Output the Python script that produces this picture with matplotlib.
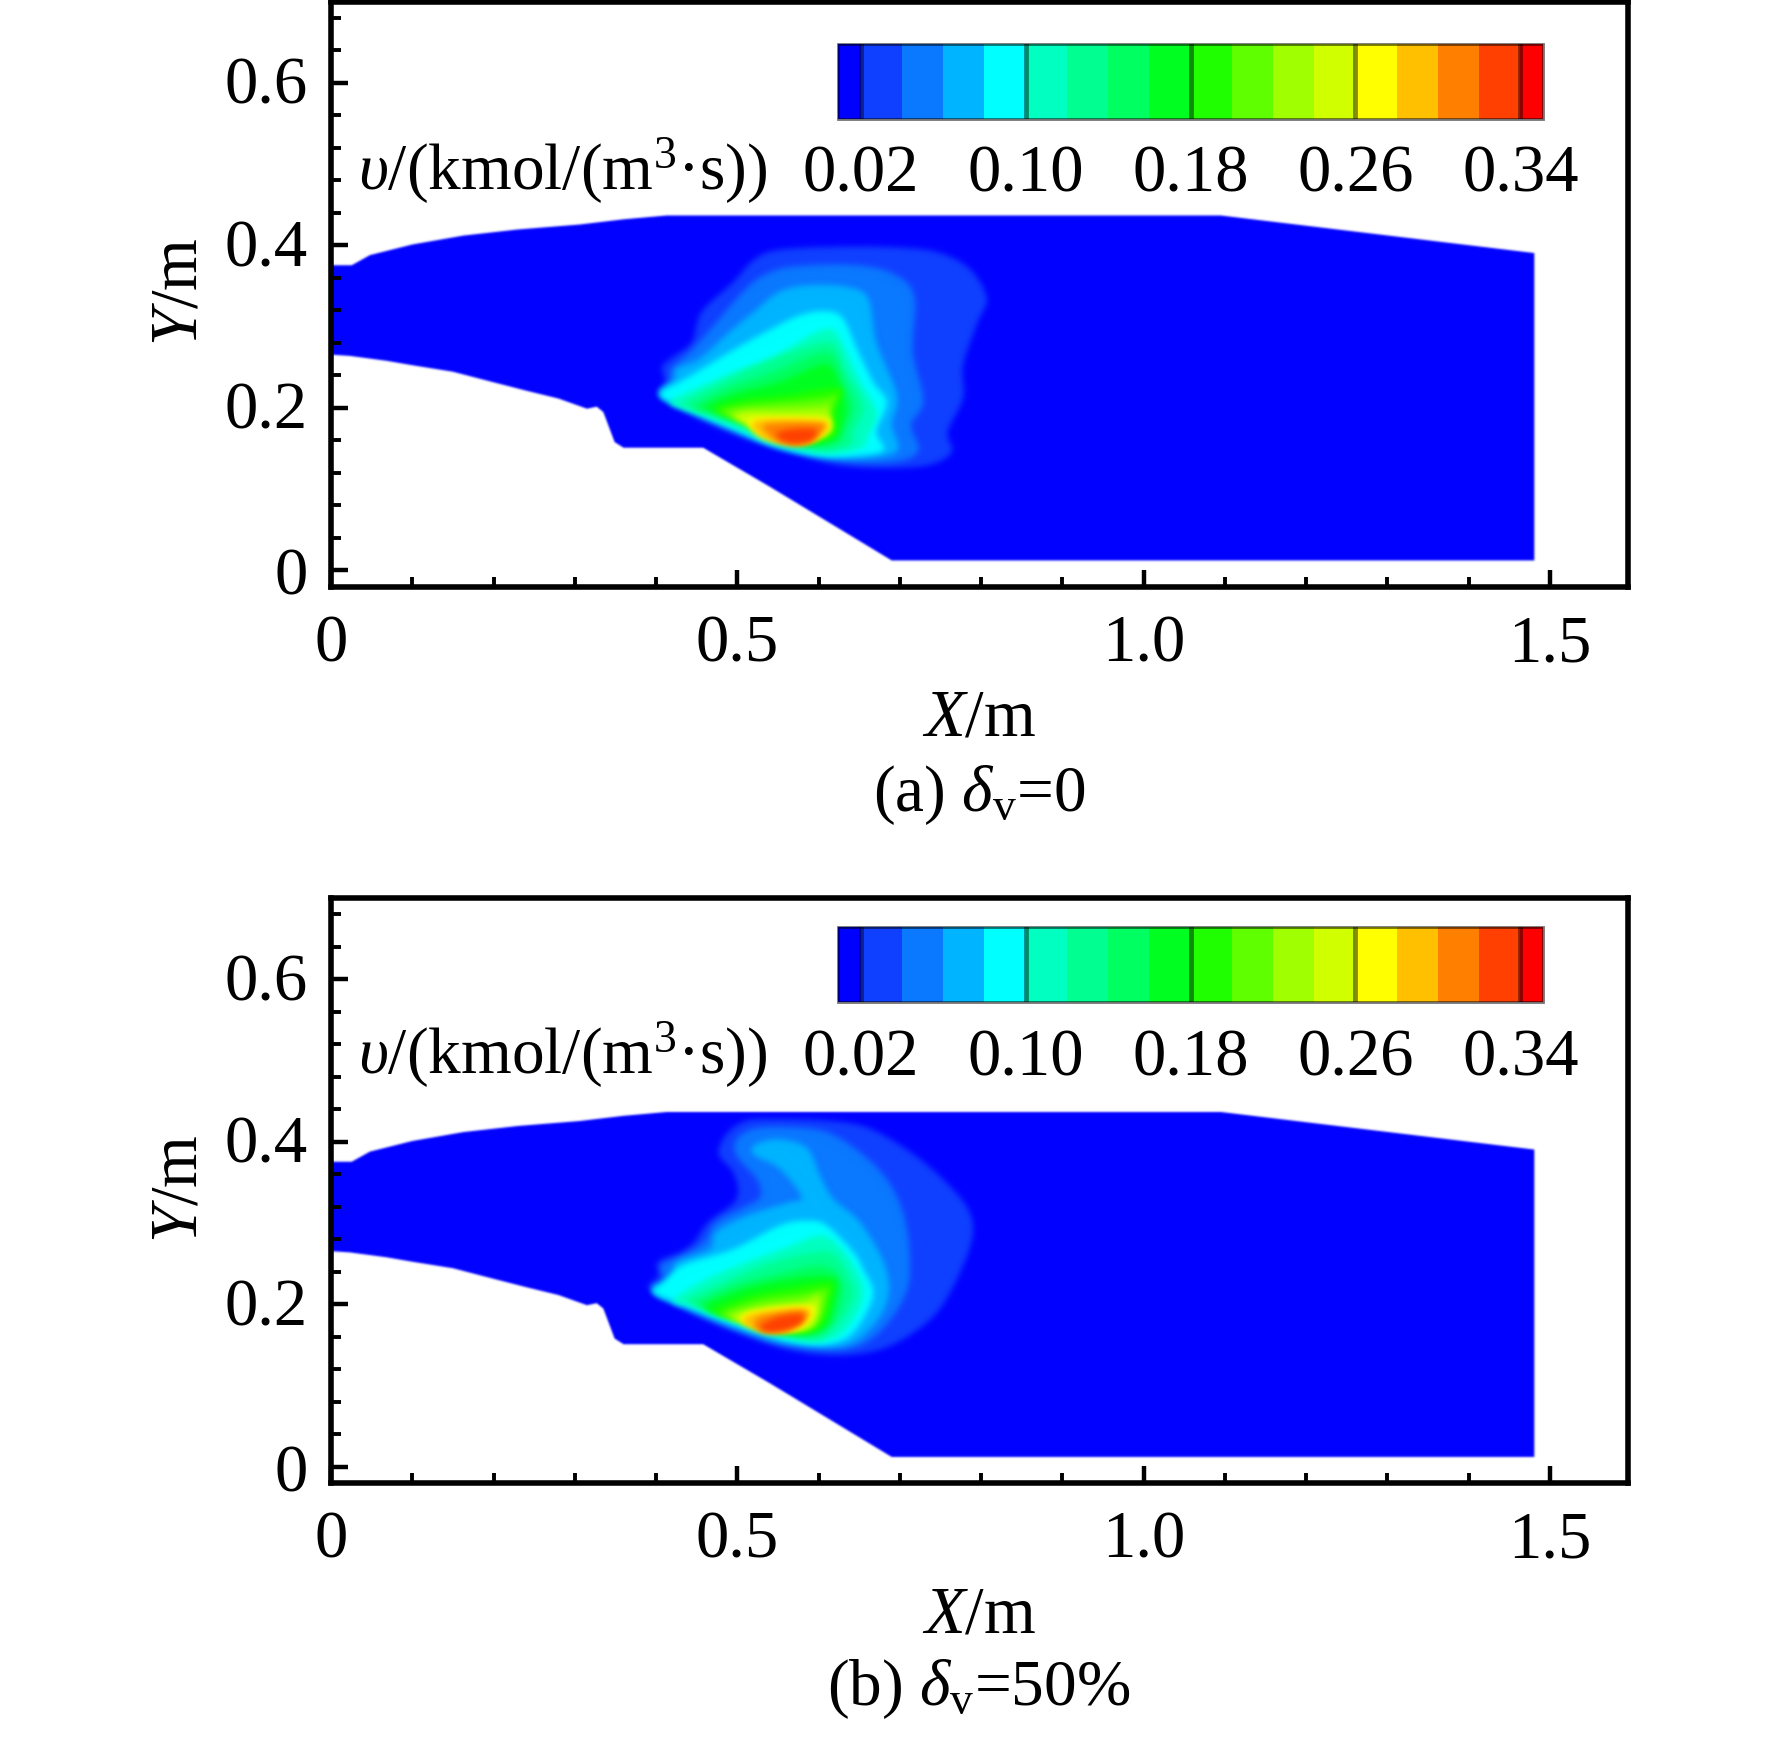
"""
Reaction rate contours for the two cavity cases
"""

import numpy as np
import matplotlib
matplotlib.use('Agg')
import matplotlib.pyplot as plt
from matplotlib.cm import ScalarMappable
from matplotlib.colors import BoundaryNorm, ListedColormap
from matplotlib.patches import PathPatch
from matplotlib.path import Path
from matplotlib.ticker import FixedLocator, MultipleLocator
from matplotlib.transforms import ScaledTranslation

plt.rcParams['font.family'] = ['Liberation Serif', 'DejaVu Serif']
plt.rcParams['mathtext.fontset'] = 'custom'
plt.rcParams['mathtext.rm'] = 'Liberation Serif'
plt.rcParams['mathtext.it'] = 'Liberation Serif:italic'
plt.rcParams['mathtext.default'] = 'regular'

# Colour scale
levels = [0.009, 0.02, 0.04, 0.06, 0.08, 0.10, 0.12, 0.14, 0.16, 0.18,
          0.20, 0.22, 0.24, 0.26, 0.28, 0.30, 0.32, 0.34, 0.351]
band_colors = ['#0000ff', '#1040ff', '#0a78ff', '#00b4ff', '#00ffff', '#00ffc0',
               '#00ff90', '#00ff60', '#00ff20', '#20ff00', '#60ff00', '#a0ff00',
               '#d0ff00', '#ffff00', '#ffc000', '#ff8000', '#ff4000', '#ff0000']
bar_ticks = [0.02, 0.10, 0.18, 0.26, 0.34]
bar_labels = ['0.02', '0.10', '0.18', '0.26', '0.34']

x_ticks = [0, 0.5, 1.0, 1.5]
x_labels = ['0', '0.5', '1.0', '1.5']
y_ticks = [0, 0.2, 0.4, 0.6]
y_labels = ['0', '0.2', '0.4', '0.6']

# Flow domain outline
wall_x = [0, 0.0255, 0.048, 0.10, 0.163, 0.23, 0.306, 0.36, 0.413, 1.095, 1.4807, 1.4807, 0.690, 0.540,
          0.458, 0.360, 0.349, 0.337, 0.335, 0.327, 0.315, 0.28, 0.241, 0.20, 0.150, 0.10, 0.068, 0.023, 0]
wall_y = [0.3755, 0.3755, 0.388, 0.401, 0.412, 0.4195, 0.4256, 0.432, 0.4367, 0.4367, 0.3905, 0.0123, 0.0123, 0.103,
          0.151, 0.151, 0.158, 0.190, 0.195, 0.2015, 0.199, 0.2115, 0.221, 0.2315, 0.2445, 0.2525, 0.258, 0.264, 0.2655]

# Contours for delta_v = 0, lower bound of each band
a_002 = [(.403, .218), (.411, .232), (.407, .250), (.421, .263), (.444, .281), (.456, .318), (.495, .355),
         (.520, .382), (.548, .394), (.610, .398), (.684, .398), (.745, .392), (.786, .371), (.807, .335),
         (.796, .306), (.778, .253), (.778, .212), (.759, .171), (.764, .146), (.737, .130), (.684, .126),
         (.622, .130), (.561, .146), (.499, .166), (.438, .193)]
a_004 = [(.404, .216), (.417, .232), (.419, .248), (.444, .271), (.475, .306), (.507, .343), (.532, .363),
         (.569, .374), (.643, .376), (.692, .365), (.718, .337), (.716, .269), (.729, .209), (.714, .179),
         (.723, .148), (.696, .134), (.634, .134), (.561, .148), (.499, .171), (.438, .197)]
a_006 = [(.405, .216), (.423, .236), (.425, .248), (.454, .261), (.491, .294), (.520, .318), (.552, .343),
         (.589, .351), (.634, .349), (.661, .335), (.671, .281), (.696, .216), (.690, .179), (.698, .150),
         (.675, .140), (.618, .139), (.552, .152), (.495, .173), (.438, .199)]
a_008 = [(.405, .216), (.429, .232), (.450, .244), (.491, .269), (.536, .294), (.577, .314), (.610, .319),
         (.630, .310), (.647, .273), (.667, .232), (.684, .207), (.671, .171), (.680, .148), (.643, .141),
         (.602, .141), (.544, .154), (.495, .175), (.438, .199)]
a_010 = [(.417, .207), (.454, .226), (.495, .244), (.548, .265), (.593, .291), (.618, .296), (.634, .269),
         (.651, .232), (.671, .195), (.661, .166), (.651, .150), (.602, .144), (.544, .158), (.495, .177),
         (.446, .195)]
a_012 = [(.433, .205), (.475, .228), (.528, .253), (.585, .275), (.618, .279), (.632, .248), (.655, .203),
         (.643, .171), (.639, .154), (.602, .148), (.544, .162), (.495, .181), (.454, .197)]
a_014 = [(.446, .201), (.487, .224), (.544, .244), (.593, .265), (.618, .265), (.630, .236), (.643, .203),
         (.634, .175), (.626, .158), (.597, .152), (.544, .166), (.499, .183), (.462, .195)]
a_016 = [(.458, .201), (.499, .218), (.552, .232), (.602, .253), (.618, .248), (.626, .228), (.634, .199),
         (.626, .171), (.618, .160), (.589, .156), (.544, .169), (.503, .185), (.470, .197)]
a_018 = [(.470, .197), (.503, .209), (.561, .216), (.610, .224), (.630, .222), (.622, .199), (.622, .171),
         (.610, .162), (.585, .158), (.548, .171), (.507, .185)]
a_020 = [(.479, .195), (.507, .203), (.552, .207), (.606, .212), (.622, .216), (.614, .191), (.618, .173),
         (.606, .164), (.581, .160), (.548, .173), (.511, .185)]
a_022 = [(.489, .191), (.511, .197), (.552, .199), (.602, .201), (.612, .203), (.612, .179), (.606, .166),
         (.577, .160), (.548, .174), (.516, .183)]
a_024 = [(.497, .189), (.516, .193), (.561, .191), (.610, .191), (.614, .175), (.602, .166), (.577, .159),
         (.546, .164), (.524, .171), (.507, .181)]
a_026 = [(.513, .183), (.524, .187), (.573, .188), (.608, .185), (.614, .175), (.600, .164), (.577, .156),
         (.546, .159), (.526, .166), (.518, .175)]
a_028 = [(.518, .179), (.528, .185), (.573, .186), (.606, .183), (.611, .175), (.597, .162), (.577, .155),
         (.548, .158), (.528, .166)]
a_030 = [(.536, .180), (.602, .181), (.606, .175), (.593, .160), (.573, .155), (.552, .158), (.538, .168)]
a_032 = [(.548, .168), (.569, .174), (.597, .173), (.591, .160), (.573, .156), (.557, .159)]
plume_a = [a_002, a_004, a_006, a_008, a_010, a_012, a_014, a_016, a_018,
           a_020, a_022, a_024, a_026, a_028, a_030, a_032]

# Contours for delta_v = 50%
b_002 = [(.392, .219), (.403, .235), (.402, .252), (.429, .264), (.446, .276), (.464, .301), (.499, .330),
         (.495, .362), (.477, .385), (.487, .410), (.511, .426), (.548, .428), (.610, .426), (.659, .418),
         (.708, .391), (.749, .358), (.782, .321), (.790, .289), (.778, .248), (.749, .194), (.712, .162),
         (.671, .143), (.618, .137), (.561, .145), (.499, .166), (.438, .192)]
b_004 = [(.395, .217), (.409, .231), (.407, .248), (.433, .260), (.458, .276), (.474, .301), (.507, .319),
         (.528, .332), (.524, .354), (.499, .383), (.499, .403), (.520, .416), (.561, .418), (.610, .412),
         (.651, .387), (.684, .354), (.704, .313), (.712, .264), (.708, .215), (.675, .166), (.634, .145),
         (.561, .149), (.499, .168), (.438, .194)]
b_006 = [(.397, .215), (.421, .235), (.425, .252), (.466, .268), (.474, .289), (.511, .309), (.561, .325),
         (.579, .332), (.552, .367), (.522, .383), (.520, .395), (.548, .403), (.585, .393), (.602, .358),
         (.618, .330), (.651, .301), (.680, .252), (.686, .211), (.667, .174), (.630, .149), (.561, .153),
         (.499, .172), (.438, .196)]
b_008 = [(.397, .215), (.409, .227), (.433, .248), (.495, .268), (.552, .297), (.585, .303), (.610, .297),
         (.643, .264), (.655, .243), (.667, .211), (.643, .166), (.610, .151), (.561, .155), (.499, .174),
         (.438, .198)]
b_010 = [(.421, .205), (.462, .231), (.511, .252), (.561, .270), (.597, .284), (.618, .278), (.643, .248),
         (.655, .211), (.634, .170), (.606, .155), (.557, .159), (.499, .178), (.446, .198)]
b_012 = [(.438, .205), (.483, .227), (.532, .248), (.585, .262), (.618, .262), (.639, .231), (.643, .207),
         (.622, .174), (.597, .157), (.552, .164), (.499, .182), (.454, .198)]
b_014 = [(.448, .200), (.495, .223), (.548, .237), (.597, .248), (.622, .239), (.630, .215), (.618, .178),
         (.593, .162), (.548, .166), (.499, .182), (.466, .196)]
b_016 = [(.458, .196), (.507, .219), (.561, .231), (.610, .235), (.624, .225), (.618, .194), (.610, .174),
         (.589, .164), (.548, .168), (.499, .182)]
b_018 = [(.470, .192), (.516, .211), (.569, .221), (.614, .227), (.616, .211), (.606, .178), (.585, .166),
         (.548, .170), (.503, .182)]
b_020 = [(.479, .188), (.524, .205), (.577, .213), (.610, .219), (.610, .211), (.602, .182), (.583, .168),
         (.548, .170), (.507, .182)]
b_022 = [(.487, .186), (.528, .198), (.581, .205), (.602, .211), (.597, .178), (.581, .169), (.548, .172),
         (.511, .180)]
b_024 = [(.493, .182), (.532, .194), (.585, .198), (.597, .205), (.593, .182), (.577, .169), (.548, .170),
         (.516, .177)]
b_026 = [(.503, .180), (.520, .191), (.589, .198), (.591, .182), (.573, .169), (.544, .166), (.520, .172)]
b_028 = [(.507, .178), (.520, .189), (.585, .195), (.585, .180), (.565, .168), (.536, .166), (.516, .172)]
b_030 = [(.520, .177), (.532, .186), (.581, .192), (.581, .180), (.561, .168), (.536, .166), (.524, .170)]
b_032 = [(.528, .172), (.548, .184), (.579, .188), (.579, .178), (.561, .169), (.540, .166)]
plume_b = [b_002, b_004, b_006, b_008, b_010, b_012, b_014, b_016, b_018,
           b_020, b_022, b_024, b_026, b_028, b_030, b_032]

W, H = 1772, 1740
TEXT_SIZE = 48


def soft_edge(radius):
    """agg filter that blurs the alpha of a flat filled patch"""
    kernel = np.exp(-0.5 * (np.arange(-3 * radius, 3 * radius + 1) / radius) ** 2)
    kernel /= kernel.sum()
    pad = 3 * radius

    def apply(image, dpi):
        alpha = np.pad(image[:, :, 3], pad)
        alpha = np.apply_along_axis(np.convolve, 0, alpha, kernel, mode='same')
        alpha = np.apply_along_axis(np.convolve, 1, alpha, kernel, mode='same')
        out = np.zeros(alpha.shape + (4,))
        idx = np.unravel_index(np.argmax(image[:, :, 3]), image.shape[:2])
        out[:, :, :3] = image[idx][:3]
        out[:, :, 3] = alpha
        return out, -pad, -pad
    return apply


def smooth_path(points):
    """Closed Catmull-Rom outline through the contour points"""
    pts = np.array(points)
    n = len(pts)
    verts = [pts[0]]
    codes = [Path.MOVETO]
    for i in range(n):
        p0, p1, p2, p3 = pts[i - 1], pts[i], pts[(i + 1) % n], pts[(i + 2) % n]
        verts += [p1 + (p2 - p0) / 6, p2 - (p3 - p1) / 6, p2]
        codes += [Path.CURVE4] * 3
    return Path(verts, codes)


def draw_panel(top, plume, bar_top, bar_bottom, label_y, caption):
    ax = fig.add_axes([331 / W, 1 - (top + 585.2) / H, 1297 / W, 585.2 / H])
    ax.set_xlim(0, 1.596)
    ax.set_ylim(-0.02, 0.70)

    ax.fill(wall_x, wall_y, color='#0000ff', lw=0, zorder=1, agg_filter=soft_edge(1))
    for i, contour in enumerate(plume):
        patch = PathPatch(smooth_path(contour), facecolor=band_colors[i + 1], lw=0,
                          zorder=2 + i, agg_filter=soft_edge(3))
        ax.add_patch(patch)

    ax.xaxis.set_major_locator(FixedLocator(x_ticks))
    ax.xaxis.set_minor_locator(MultipleLocator(0.1))
    ax.set_xticklabels(x_labels)
    ax.yaxis.set_major_locator(FixedLocator(y_ticks))
    ax.yaxis.set_minor_locator(MultipleLocator(0.04))
    ax.set_yticklabels(y_labels)
    ax.tick_params(which='major', direction='in', length=12, width=3.2, labelsize=TEXT_SIZE)
    ax.tick_params(which='minor', direction='in', length=7, width=2.8)
    ax.tick_params(axis='x', which='major', pad=19)
    ax.tick_params(axis='y', which='major', pad=17)
    for spine in ax.spines.values():
        spine.set_linewidth(4)
        spine.set_zorder(40)

    # the decimal y tick labels sit a little above their ticks
    lift = ScaledTranslation(0, 2.5 / 72, fig.dpi_scale_trans)
    for label in ax.get_yticklabels()[1:]:
        label.set_transform(label.get_transform() + lift)

    ax.set_xlabel(r'$\mathit{X}$/m', fontsize=TEXT_SIZE, labelpad=10)
    ax.set_ylabel(r'$\mathit{Y}$/m', fontsize=TEXT_SIZE)
    ax.yaxis.set_label_coords(-0.093, 0.505)
    ax.text(0.033, label_y, r'$\mathit{\upsilon}$/(kmol/(m$^3$·s))', fontsize=TEXT_SIZE - 1,
            va='baseline', zorder=30)

    # colour bar
    cax = fig.add_axes([838 / W, 1 - bar_bottom / H, 705 / W, (bar_bottom - bar_top) / H])
    mappable = ScalarMappable(norm=BoundaryNorm(levels, len(band_colors)),
                              cmap=ListedColormap(band_colors))
    cbar = fig.colorbar(mappable, cax=cax, orientation='horizontal', spacing='proportional')
    cbar.set_ticks(bar_ticks, labels=bar_labels)
    cbar.minorticks_off()
    cax.tick_params(length=0, pad=18, labelsize=TEXT_SIZE)
    cbar.outline.set_edgecolor('black')
    cbar.outline.set_alpha(0.55)
    cbar.outline.set_linewidth(2)
    for v in bar_ticks:
        cax.axvline(v, color='black', alpha=0.45, lw=3.5)

    fig.text(979 / W, 1 - caption[1] / H, caption[0], fontsize=TEXT_SIZE - 1, ha='center', va='baseline')


fig = plt.figure(figsize=(W / 100, H / 100), dpi=100)
draw_panel(2.5, plume_a, 45, 120, 0.470, (r'(a) $\mathit{\delta}_{v}$=0', 811))
draw_panel(899, plume_b, 928, 1003, 0.486, (r'(b) $\mathit{\delta}_{v}$=50%', 1705))
fig.savefig('out.png', dpi=100)
plt.close(fig)
